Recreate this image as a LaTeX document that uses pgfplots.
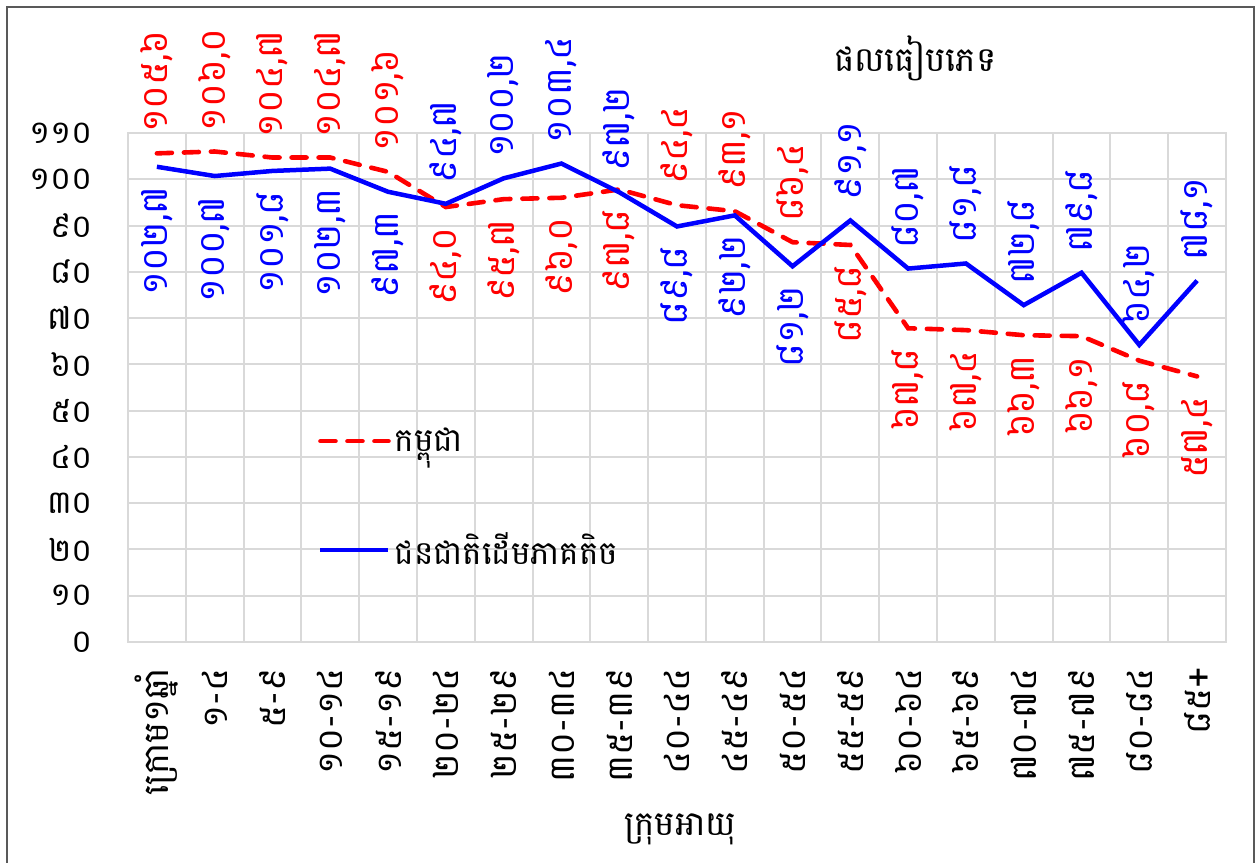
\documentclass[border=0pt]{standalone}
\usepackage{fontspec}
\setmainfont[Script=Khmer]{Battambang}
\usepackage{pgfplots}
\pgfplotsset{compat=1.18}
\definecolor{gridc}{RGB}{217,217,217}
\definecolor{framec}{RGB}{89,89,89}
\definecolor{kred}{RGB}{255,0,0}
\definecolor{kblue}{RGB}{0,0,255}
\begin{document}
\begin{tikzpicture}
\begin{axis}[
  scale only axis, width=549pt, height=254.5pt,
  xmin=-0.5, xmax=18.5, ymin=0, ymax=110,
  xtick={0,...,18},
  xticklabels={ក្រោម១ឆ្នាំ,១-៤,៥-៩,១០-១៤,១៥-១៩,២០-២៤,២៥-២៩,៣០-៣៤,៣៥-៣៩,៤០-៤៤,៤៥-៤៩,៥០-៥៤,៥៥-៥៩,៦០-៦៤,៦៥-៦៩,៧០-៧៤,៧៥-៧៩,៨០-៨៤,៨៥+},
  minor xtick={-0.5,0.5,...,18.5},
  ytick={0,10,...,110},
  yticklabels={០,១០,២០,៣០,៤០,៥០,៦០,៧០,៨០,៩០,១០០,១១០},
  ymajorgrids, xminorgrids,
  grid style={gridc, line width=1pt},
  minor grid style={gridc, line width=1pt},
  axis line style={gridc, line width=1pt},
  major tick length=0pt, minor tick length=0pt,
  tick style={draw=none},
  yticklabel style={anchor=east, xshift=-14pt, font=\fontsize{16}{18}\selectfont},
  xticklabel style={rotate=90, anchor=east, inner xsep=13pt, font=\fontsize{17.5}{19}\selectfont},
  title={ផលធៀបភេទ},
  title style={at={(axis description cs:0.717,1.124)}, anchor=center, font=\fontsize{17}{20}\selectfont},
  xlabel={ក្រុមអាយុ},
  xlabel style={at={(axis description cs:0.503,-0.369)}, anchor=center, font=\fontsize{17}{20}\selectfont},
  legend style={at={(axis cs:2.68,31.2)}, anchor=west, draw=none, fill=none, row sep=35pt, font=\fontsize{16.3}{18}\selectfont},
  legend cell align=left,
  legend image code/.code={\draw[#1] (0pt,0pt) -- (34pt,0pt);},
  clip=false,
]
\addplot[kred, line width=2.3pt, dash pattern=on 7.5pt off 6pt, line cap=round, mark=none] coordinates {
(0,105.6) (1,106.0) (2,104.7) (3,104.7) (4,101.6) (5,94.0) (6,95.7) (7,96.0) (8,97.8) (9,94.4)
(10,93.1) (11,86.4) (12,85.8) (13,67.8) (14,67.4) (15,66.3) (16,66.1) (17,60.8) (18,57.4)};
\addlegendentry{កម្ពុជា}
\addplot[kblue, line width=2.25pt, mark=none] coordinates {
(0,102.7) (1,100.7) (2,101.8) (3,102.3) (4,97.3) (5,94.7) (6,100.2) (7,103.4) (8,97.2) (9,89.8)
(10,92.2) (11,81.2) (12,91.1) (13,80.7) (14,81.8) (15,72.8) (16,79.8) (17,64.2) (18,78.1)};
\addlegendentry{ជនជាតិដើមភាគតិច}
% red labels above
\addplot[draw=none, mark=none, forget plot, nodes near coords, point meta=explicit symbolic,
  every node near coord/.append style={text=kred, rotate=90, anchor=west, inner xsep=10pt, inner ysep=0pt, font=\fontsize{18}{20}\selectfont}]
  coordinates {(0,105.6) [១០៥,៦] (1,106.0) [១០៦,០] (2,104.7) [១០៤,៧] (3,104.7) [១០៤,៧] (4,101.6) [១០១,៦]
  (9,94.4) [៩៤,៤] (10,93.1) [៩៣,១] (11,86.4) [៨៦,៤]};
% red labels below
\addplot[draw=none, mark=none, forget plot, nodes near coords, point meta=explicit symbolic,
  every node near coord/.append style={text=kred, rotate=90, anchor=east, inner xsep=10pt, inner ysep=0pt, font=\fontsize{18}{20}\selectfont}]
  coordinates {(5,94.0) [៩៤,០] (6,95.7) [៩៥,៧] (7,96.0) [៩៦,០] (8,97.8) [៩៧,៨] (12,85.8) [៨៥,៨]
  (13,67.8) [៦៧,៨] (14,67.4) [៦៧,៤] (15,66.3) [៦៦,៣] (16,66.1) [៦៦,១] (17,60.8) [៦០,៨] (18,57.4) [៥៧,៤]};
% blue labels above
\addplot[draw=none, mark=none, forget plot, nodes near coords, point meta=explicit symbolic,
  every node near coord/.append style={text=kblue, rotate=90, anchor=west, inner xsep=10pt, inner ysep=0pt, font=\fontsize{18}{20}\selectfont}]
  coordinates {(5,94.7) [៩៤,៧] (6,100.2) [១០០,២] (7,103.4) [១០៣,៤] (8,97.2) [៩៧,២] (12,91.1) [៩១,១]
  (13,80.7) [៨០,៧] (14,81.8) [៨១,៨] (15,72.8) [៧២,៨] (16,79.8) [៧៩,៨] (17,64.2) [៦៤,២] (18,78.1) [៧៨,១]};
% blue labels below
\addplot[draw=none, mark=none, forget plot, nodes near coords, point meta=explicit symbolic,
  every node near coord/.append style={text=kblue, rotate=90, anchor=east, inner xsep=10pt, inner ysep=0pt, font=\fontsize{18}{20}\selectfont}]
  coordinates {(0,102.7) [១០២,៧] (1,100.7) [១០០,៧] (2,101.8) [១០១,៨] (3,102.3) [១០២,៣] (4,97.3) [៩៧,៣]
  (9,89.8) [៨៩,៨] (10,92.2) [៩២,២] (11,81.2) [៨១,២]};
\end{axis}
\draw[framec, line width=1pt] (-60.5pt,-111pt) -- (-60.5pt,317.5pt) -- (563pt,317.5pt) -- (563pt,-111pt);
\pgfresetboundingbox
\path[use as bounding box] (-64pt,-110.5pt) rectangle (563.5pt,321pt);
\end{tikzpicture}
\end{document}
